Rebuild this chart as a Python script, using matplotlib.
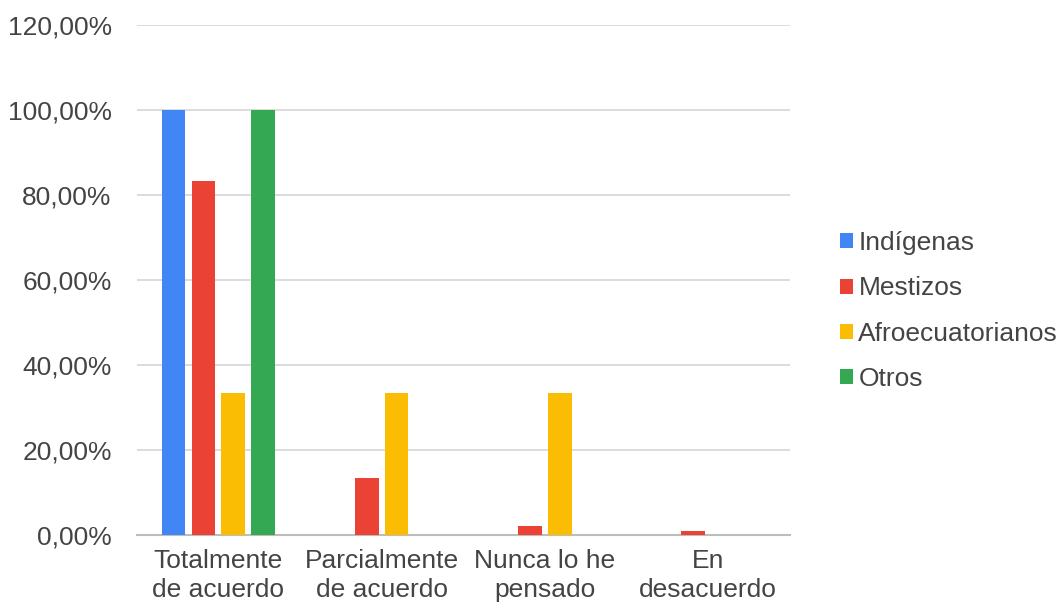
import matplotlib
matplotlib.use("Agg")
import matplotlib.pyplot as plt
import numpy as np
from matplotlib.ticker import FuncFormatter

categories = ["Totalmente\nde acuerdo", "Parcialmente\nde acuerdo", "Nunca lo he\npensado", "En\ndesacuerdo"]
series_names = ["Indígenas", "Mestizos", "Afroecuatorianos", "Otros"]
indigenas = [100.0, 0.0, 0.0, 0.0]
mestizos = [83.33, 13.33, 2.0, 1.0]
afro = [33.33, 33.33, 33.33, 0.0]
otros = [100.0, 0.0, 0.0, 0.0]
colors = ["#4285F4", "#EA4335", "#FBBC04", "#34A853"]

plt.rcParams['font.family'] = ['Liberation Sans', 'DejaVu Sans']
fig = plt.figure(figsize=(10.6, 6.05), dpi=100)
ax = fig.add_axes([0.129, 0.116, 0.616, 0.843])

x = np.arange(len(categories))
step = 0.183
width = 0.146
for i, (vals, name, c) in enumerate(zip([indigenas, mestizos, afro, otros], series_names, colors)):
    ax.bar(x + (i - 1.5) * step, vals, width, color=c, label=name, zorder=3)

ax.set_xlim(-0.5, 3.5)
ax.set_ylim(0, 120)
ax.set_yticks(np.arange(0, 121, 20))
ax.yaxis.set_major_formatter(FuncFormatter(lambda v, p: f"{v:.2f}%".replace(".", ",")))
ax.grid(axis='y', color='#d9d9d9', linewidth=1.3, zorder=0)
for s in ['top', 'right', 'left']:
    ax.spines[s].set_visible(False)
ax.spines['bottom'].set_color('#bdbdbd')
ax.spines['bottom'].set_linewidth(1.5)
ax.tick_params(axis='both', length=0, labelsize=19, colors='#444444', pad=10)
ax.tick_params(axis='y', pad=18)
ax.set_xticks(x)
ax.set_xticklabels(categories, linespacing=1.3)

fig.legend(loc='center left', bbox_to_anchor=(0.770, 0.486), frameon=False,
           fontsize=19, labelcolor='#444444', handlelength=0.5, handleheight=0.5,
           handletextpad=0.2, labelspacing=0.8)

fig.savefig("out.png", dpi=100)
